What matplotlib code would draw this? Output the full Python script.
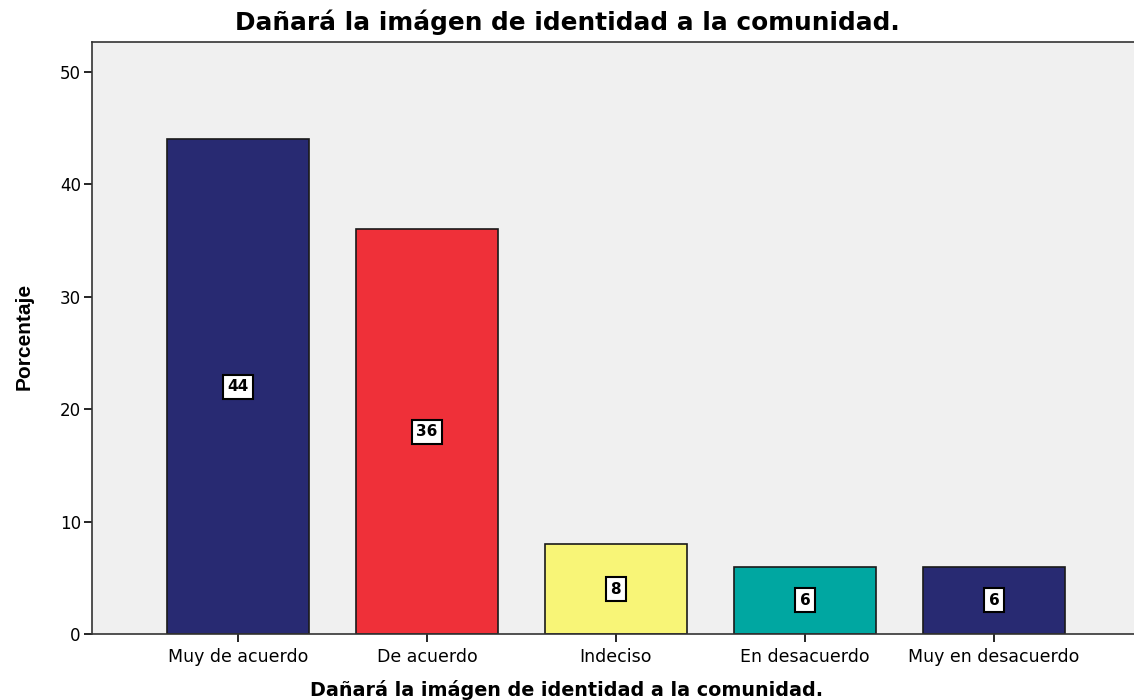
import matplotlib
matplotlib.use('Agg')
import matplotlib.pyplot as plt

plt.rcParams['font.family'] = ['DejaVu Sans']

categorias = ['Muy de acuerdo', 'De acuerdo', 'Indeciso', 'En desacuerdo', 'Muy en desacuerdo']
porcentajes = [44, 36, 8, 6, 6]
colores = ['#282a72', '#ef3039', '#f8f577', '#00a7a1', '#282a72']
titulo = 'Dañará la imágen de identidad a la comunidad.'

fig = plt.figure(figsize=(11.34, 7), dpi=100)
ax = fig.add_axes([0.0811, 0.0943, 0.9189, 0.8457])
ax.set_facecolor('#f0f0f0')

x = list(range(len(categorias)))
ax.bar(x, porcentajes, width=0.75, color=colores, edgecolor='#1a1a1a', linewidth=1.2, zorder=2)

# etiquetas de valor en el centro de cada barra
for xi, v in zip(x, porcentajes):
    ax.text(xi, v / 2, str(v), ha='center', va='center', fontsize=11, fontweight='bold',
            bbox=dict(boxstyle='square,pad=0.3', facecolor='white', edgecolor='black', linewidth=1.5),
            zorder=3)

ax.set_xlim(-0.772, 4.741)
ax.set_ylim(0, 52.67)
ax.set_yticks([0, 10, 20, 30, 40, 50])
ax.set_xticks(x)
ax.set_xticklabels(categorias, fontsize=12.5)
ax.tick_params(axis='y', labelsize=12, length=6, width=1.2, direction='out', pad=2)
ax.tick_params(axis='x', length=6, width=1.2, direction='out', pad=4)

for s in ['left', 'bottom', 'top']:
    ax.spines[s].set_linewidth(1.2)
    ax.spines[s].set_color('#333333')
ax.spines['right'].set_visible(False)

fig.text(0.5, 0.968, titulo, ha='center', va='center', fontsize=17.8, fontweight='bold')
fig.text(0.5, 0.0143, titulo, ha='center', va='center', fontsize=13.8, fontweight='bold')
fig.text(0.021, 0.52, 'Porcentaje', rotation=90, ha='center', va='center', fontsize=15,
         fontweight='bold', family='Liberation Sans')

fig.savefig('out.png', dpi=100)
